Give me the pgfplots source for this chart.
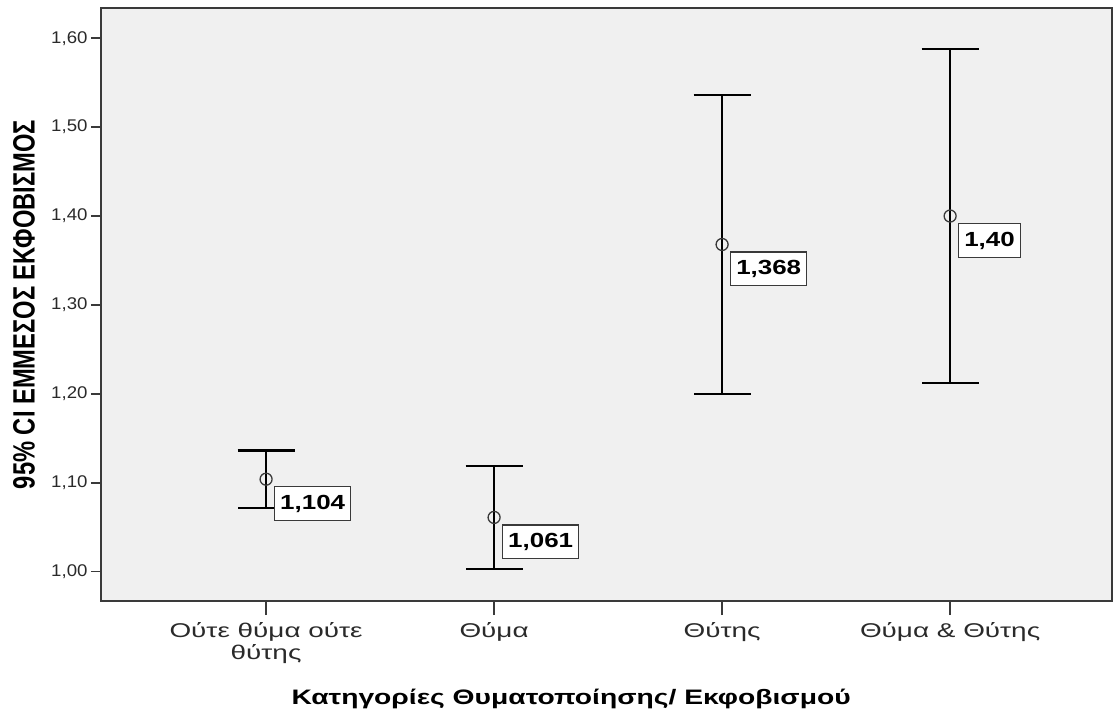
\documentclass[border=0pt]{standalone}
\usepackage{fontspec}
\setmainfont{Liberation Sans}
\newfontfamily\tickfont[FakeStretch=1.1]{Liberation Sans}
\newfontfamily\catfont[FakeStretch=1.4]{Liberation Sans}
\newfontfamily\xlabfont[FakeStretch=1.35]{Liberation Sans}
\newfontfamily\valfont[FakeStretch=1.27]{Liberation Sans}
\usepackage{graphicx}
\usepackage{pgfplots}
\usepackage{pgfplotstable}
\pgfplotsset{compat=1.18}
\definecolor{bg}{HTML}{F0F0F0}
\definecolor{axc}{HTML}{3A3A3A}
\definecolor{txt}{HTML}{2A2A2A}

\pgfplotstableread{
x y err lab
0 1.104 0.0325 1,104
1 1.061 0.058 1,061
2 1.368 0.168 1,368
3 1.400 0.188 1,40
}\cidata

\begin{document}
\begin{tikzpicture}
\begin{axis}[
  name=ax,
  scale only axis,
  width=1011bp, height=593bp,
  xmin=-0.724, xmax=3.71,
  ymin=0.967, ymax=1.634,
  axis background/.style={fill=bg},
  axis line style={draw=axc, line width=1.8bp},
  tick pos=left,
  tick align=outside,
  major tick length=10bp,
  tick style={draw=axc, line width=1.5bp},
  xtick style={/pgfplots/major tick length=14bp},
  xtick={0,1,2,3},
  xticklabels={Ούτε θύμα ούτε\\θύτης, Θύμα, Θύτης, Θύμα \& Θύτης},
  xticklabel style={font=\fontsize{20}{22}\selectfont\catfont, text=txt, align=center, yshift=-8bp},
  ytick={1.0,1.1,1.2,1.3,1.4,1.5,1.6},
  yticklabel style={font=\fontsize{17}{20}\selectfont\tickfont, text=txt,
    /pgf/number format/.cd, fixed, fixed zerofill, precision=2, use comma, assume math mode=true},
  ylabel={\scalebox{1}[1.3]{\fontsize{23.8}{28}\selectfont\bfseries 95\% CI ΕΜΜΕΣΟΣ ΕΚΦΟΒΙΣΜΟΣ}},
  ylabel style={at={(axis description cs:-0.0762,0.5)}, anchor=center},
  xlabel={\fontsize{21}{25}\selectfont\xlabfont\bfseries Κατηγορίες Θυματοποίησης/ Εκφοβισμού},
  xlabel style={at={(axis description cs:0.465,-0.1737)}, anchor=base},
  clip=false,
]
\addplot[only marks, mark=o, mark size=6bp, mark options={draw=axc, line width=1.3bp},
  error bars/.cd, y dir=both, y explicit,
  error bar style={line width=2bp, black},
  error mark options={rotate=90, mark size=28.5bp, line width=2.6bp, black},
  /pgfplots/.cd,
  point meta=explicit symbolic,
  nodes near coords,
  nodes near coords style={anchor=north west, xshift=8bp, yshift=-7bp,
    draw=axc, line width=1.3bp, fill=white, text=black,
    font=\fontsize{20.5}{24}\selectfont\valfont\bfseries,
    inner xsep=5.5bp, inner ysep=8bp, text height=14.5bp, text depth=3bp},
] table[x=x, y=y, y error=err, meta=lab] {\cidata};
\end{axis}
\pgfresetboundingbox
\path[use as bounding box] (ax.south west) ++(-101bp,-110bp) rectangle ++(1114bp,711bp);
\end{tikzpicture}
\end{document}
